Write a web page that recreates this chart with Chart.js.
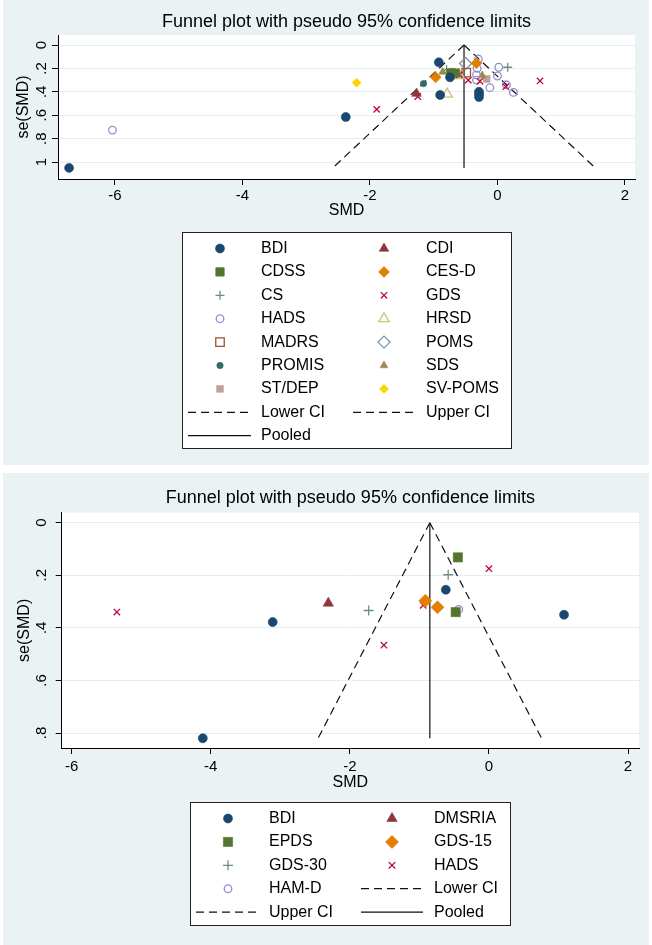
<!DOCTYPE html>
<html lang="en">
<head>
<meta charset="UTF-8">
<title>Funnel plots</title>
<script src="https://cdn.jsdelivr.net/npm/chart.js@4.4.1/dist/chart.umd.min.js"></script>
<style>
  html, body { margin: 0; padding: 0; background: #fff; }
  body { width: 652px; height: 945px; position: relative; overflow: hidden; }
  .panel { position: absolute; left: 3px; width: 646px; background: #eaf2f3; }
  #top { top: 0; height: 465px; }
  #bottom { top: 473px; height: 472px; }
  canvas { display: block; }
</style>
</head>
<body>
<div class="panel" id="top"><canvas id="chartTop" width="646" height="465"></canvas></div>
<div class="panel" id="bottom"><canvas id="chartBottom" width="646" height="472"></canvas></div>

<script>
// ---- data: [SMD, se(SMD)] pairs ----
const xTicks = [-6, -4, -2, 0, 2];

// top plot
const topBDI    = [[-6.72, 1.05], [-2.38, 0.615], [-0.92, 0.148], [-0.745, 0.276], [-0.90, 0.427], [-0.29, 0.40], [-0.29, 0.42], [-0.29, 0.445]];
const topCDI    = [[-1.27, 0.415]];
const topCDSS   = [[-0.73, 0.236], [-0.66, 0.24]];
const topCESD   = [[-0.97, 0.276], [-0.33, 0.155]];
const topCS     = [[-0.80, 0.21], [0.16, 0.19]];
const topGDS    = [[-1.895, 0.55], [-1.25, 0.44], [-0.60, 0.256], [-0.458, 0.30], [-0.275, 0.31], [0.13, 0.356], [0.667, 0.307]];
const topHADS   = [[-6.04, 0.727], [-0.30, 0.12], [-0.32, 0.20], [-0.33, 0.256], [-0.33, 0.30], [-0.12, 0.365], [0.02, 0.19], [0.0, 0.265], [0.14, 0.34], [0.25, 0.405]];
const topHRSD   = [[-0.79, 0.42], [-0.60, 0.262]];
const topMADRS  = [[-0.49, 0.236]];
const topPOMS   = [[-0.50, 0.158]];
const topPROMIS = [[-1.16, 0.33]];
const topSDS    = [[-0.86, 0.23], [-0.24, 0.26]];
const topSTDEP  = [[-0.17, 0.29]];
const topSVPOMS = [[-2.21, 0.322]];
const topLowerCI = [[-0.525, 0], [-2.583, 1.05]];
const topUpperCI = [[-0.525, 0], [1.533, 1.05]];
const topPooled  = [[-0.525, 0], [-0.525, 1.05]];
const topYTicks  = [0, 0.2, 0.4, 0.6, 0.8, 1];
const topYLabels = ['0', '.2', '.4', '.6', '.8', '1'];

// bottom plot
const botBDI    = [[-4.115, 0.82], [-3.11, 0.378], [-0.62, 0.255], [1.08, 0.35]];
const botDMSRIA = [[-2.31, 0.306]];
const botEPDS   = [[-0.447, 0.132], [-0.478, 0.34]];
const botGDS15  = [[-0.915, 0.297], [-0.74, 0.322]];
const botGDS30  = [[-1.73, 0.334], [-0.586, 0.198]];
const botHADS   = [[-5.35, 0.34], [-1.51, 0.466], [-0.945, 0.314], [0.0, 0.175]];
const botHAMD   = [[-0.435, 0.33]];
const botLowerCI = [[-0.85, 0], [-2.457, 0.82]];
const botUpperCI = [[-0.85, 0], [0.757, 0.82]];
const botPooled  = [[-0.85, 0], [-0.85, 0.82]];
const botYTicks  = [0, 0.2, 0.4, 0.6, 0.8];
const botYLabels = ['0', '.2', '.4', '.6', '.8'];

const FONT = '"Liberation Sans", Arial, sans-serif';
Chart.defaults.font.family = FONT;

// stata s2color palette
const col = {
  navy: '#1a476f', maroon: '#90353b', green: '#55752f', orange: '#e37e00',
  teal: '#6e8e84', cranberry: '#c10534', lavender: '#938dd2', khaki: '#cac27e',
  sienna: '#a0522d', emidblue: '#7b92a8', emerald: '#2d6d66', brown: '#9c8847',
  erose: '#bfa19c', gold: '#ffd200'
};

function marker(label, pts, color, shape, r, hollow) {
  const thin = hollow || shape === 'cross' || shape === 'crossRot';
  return {
    label: label,
    data: pts.map(p => ({ x: p[0], y: p[1] })),
    pointStyle: shape,
    pointRadius: r,
    pointHoverRadius: r,
    backgroundColor: hollow ? 'rgba(0,0,0,0)' : color,
    borderColor: color,
    pointBorderWidth: thin ? 1.3 : 0.6,
    showLine: false
  };
}

function line(label, pts, dash) {
  return {
    label: label,
    data: pts.map(p => ({ x: p[0], y: p[1] })),
    showLine: true,
    borderColor: '#111',
    borderWidth: 1.2,
    borderDash: dash,
    pointRadius: 0,
    pointHoverRadius: 0,
    fill: false
  };
}

// white plot region
const plotBg = {
  id: 'plotBg',
  beforeDraw(chart) {
    const { ctx, chartArea: a } = chart;
    ctx.save();
    ctx.fillStyle = '#fff';
    ctx.fillRect(a.left, a.top, a.right - a.left, a.bottom - a.top);
    ctx.restore();
  }
};

// two-column stata style legend below the x axis title
const legendBox = {
  id: 'legendBox',
  afterDraw(chart, args, opts) {
    const ctx = chart.ctx;
    const items = chart.data.datasets;
    const a = chart.chartArea;
    const rows = Math.ceil(items.length / 2);
    ctx.save();
    ctx.font = '16px ' + FONT;
    let widest = 0;
    items.forEach((d, i) => { if (i % 2 === 1) widest = Math.max(widest, ctx.measureText(d.label).width); });
    const w = Math.round(244 + widest + 12);
    const h = Math.round(16.5 + (rows - 1) * 23.4 + 12.5);
    const left = Math.round((a.left + a.right) / 2 - w / 2);
    const top = Math.round(chart.scales.x.bottom + opts.gap);
    ctx.fillStyle = '#fff';
    ctx.fillRect(left, top, w, h);
    ctx.strokeStyle = '#222';
    ctx.lineWidth = 1;
    ctx.strokeRect(left + 0.5, top + 0.5, w, h);
    items.forEach((d, i) => {
      const c = i % 2, row = Math.floor(i / 2);
      const y = top + 16.5 + row * 23.4;
      if (d.showLine) {
        ctx.beginPath();
        ctx.setLineDash(d.borderDash || []);
        ctx.lineWidth = d.borderWidth;
        ctx.strokeStyle = d.borderColor;
        ctx.moveTo(left + (c ? 171 : 6), y);
        ctx.lineTo(left + (c ? 233 : 69), y);
        ctx.stroke();
        ctx.setLineDash([]);
      } else {
        ctx.fillStyle = d.backgroundColor;
        ctx.strokeStyle = d.borderColor;
        ctx.lineWidth = d.pointBorderWidth;
        Chart.helpers.drawPoint(ctx, {
          pointStyle: d.pointStyle, radius: d.pointRadius, rotation: 0, borderWidth: d.pointBorderWidth
        }, left + (c ? 202 : 38), y);
      }
      ctx.fillStyle = '#000';
      ctx.textAlign = 'left';
      ctx.textBaseline = 'middle';
      ctx.fillText(d.label, left + (c ? 244 : 79), y);
    });
    ctx.restore();
  }
};

function funnel(id, datasets, p) {
  return new Chart(document.getElementById(id), {
    type: 'scatter',
    data: { datasets: datasets },
    plugins: [plotBg, legendBox],
    options: {
      responsive: false,
      animation: false,
      events: [],
      layout: { padding: { top: 0, left: 0, right: p.padRight, bottom: p.padBottom } },
      plugins: {
        legend: { display: false },
        tooltip: { enabled: false },
        title: {
          display: true,
          text: 'Funnel plot with pseudo 95% confidence limits',
          fullSize: false,
          color: '#000',
          font: { size: 18, weight: 'normal', family: FONT },
          padding: { top: p.titleTop, bottom: p.titleBottom }
        },
        legendBox: { gap: p.legendGap }
      },
      scales: {
        x: {
          type: 'linear',
          min: p.xMin,
          max: p.xMax,
          afterBuildTicks: s => { s.ticks = xTicks.map(v => ({ value: v })); },
          afterFit: s => { s.height = 45; },
          border: { color: '#000', width: 1 },
          grid: { drawOnChartArea: false, tickLength: 6, tickColor: '#000', tickWidth: 1 },
          ticks: {
            color: '#000', autoSkip: false, maxRotation: 0, padding: p.xTickPad,
            font: { size: 15, family: FONT },
            callback: v => String(v)
          },
          title: {
            display: true, text: 'SMD', color: '#000',
            font: { size: 16, family: FONT },
            padding: { top: 0, bottom: p.xTitlePad }
          }
        },
        y: {
          type: 'linear',
          reverse: true,
          min: p.yMin,
          max: p.yMax,
          afterBuildTicks: s => { s.ticks = p.yTicks.map(v => ({ value: v })); },
          afterFit: s => { s.width = p.yWidth; },
          border: { color: '#000', width: 1 },
          grid: { color: '#e4edef', lineWidth: 1, tickLength: 6, tickColor: '#000', tickWidth: 1 },
          ticks: {
            color: '#000', autoSkip: false, minRotation: 90, maxRotation: 90,
            crossAlign: 'center', padding: p.yTickPad,
            font: { size: 15, family: FONT },
            callback: v => p.yLabels[p.yTicks.indexOf(v)]
          },
          title: {
            display: true, text: 'se(SMD)', color: '#000',
            font: { size: 16, family: FONT },
            padding: { top: p.yTitlePad, bottom: 0 }
          }
        }
      }
    }
  });
}

funnel('chartTop', [
  marker('BDI', topBDI, col.navy, 'circle', 4.5, false),
  marker('CDI', topCDI, col.maroon, 'triangle', 5.5, false),
  marker('CDSS', topCDSS, col.green, 'rect', 6, false),
  marker('CES-D', topCESD, col.orange, 'rectRot', 5.5, false),
  marker('CS', topCS, col.teal, 'cross', 4.5, true),
  marker('GDS', topGDS, col.cranberry, 'crossRot', 4.5, true),
  marker('HADS', topHADS, col.lavender, 'circle', 3.8, true),
  marker('HRSD', topHRSD, col.khaki, 'triangle', 6, true),
  marker('MADRS', topMADRS, col.sienna, 'rect', 6, true),
  marker('POMS', topPOMS, col.emidblue, 'rectRot', 6, true),
  marker('PROMIS', topPROMIS, col.emerald, 'circle', 3.2, false),
  marker('SDS', topSDS, col.brown, 'triangle', 4.5, false),
  marker('ST/DEP', topSTDEP, col.erose, 'rect', 4.8, false),
  marker('SV-POMS', topSVPOMS, col.gold, 'rectRot', 4.5, false),
  line('Lower CI', topLowerCI, [8, 5]),
  line('Upper CI', topUpperCI, [8, 5]),
  line('Pooled', topPooled, [])
], {
  xMin: -6.894, xMax: 2.157, yMin: -0.0855, yMax: 1.145,
  yTicks: topYTicks, yLabels: topYLabels,
  padRight: 14, padBottom: 241,
  titleTop: 10.9, titleBottom: 2.5,
  yWidth: 55, yTickPad: 4, yTitlePad: 11.4,
  xTickPad: 2, xTitlePad: 3.4,
  legendGap: 7.7
});

funnel('chartBottom', [
  marker('BDI', botBDI, col.navy, 'circle', 4.5, false),
  marker('DMSRIA', botDMSRIA, col.maroon, 'triangle', 6, false),
  marker('EPDS', botEPDS, col.green, 'rect', 6.5, false),
  marker('GDS-15', botGDS15, col.orange, 'rectRot', 6.5, false),
  marker('GDS-30', botGDS30, col.teal, 'cross', 5, true),
  marker('HADS', botHADS, col.cranberry, 'crossRot', 4.5, true),
  marker('HAM-D', botHAMD, col.lavender, 'circle', 3.8, true),
  line('Lower CI', botLowerCI, [8, 5]),
  line('Upper CI', botUpperCI, [8, 5]),
  line('Pooled', botPooled, [])
], {
  xMin: -6.144, xMax: 2.158, yMin: -0.038, yMax: 0.857,
  yTicks: botYTicks, yLabels: botYLabels,
  padRight: 10, padBottom: 152,
  titleTop: 14.5, titleBottom: 3.6,
  yWidth: 58.7, yTickPad: 7.7, yTitlePad: 12.4,
  xTickPad: 4, xTitlePad: 0.4,
  legendGap: 9.3
});
</script>
</body>
</html>
